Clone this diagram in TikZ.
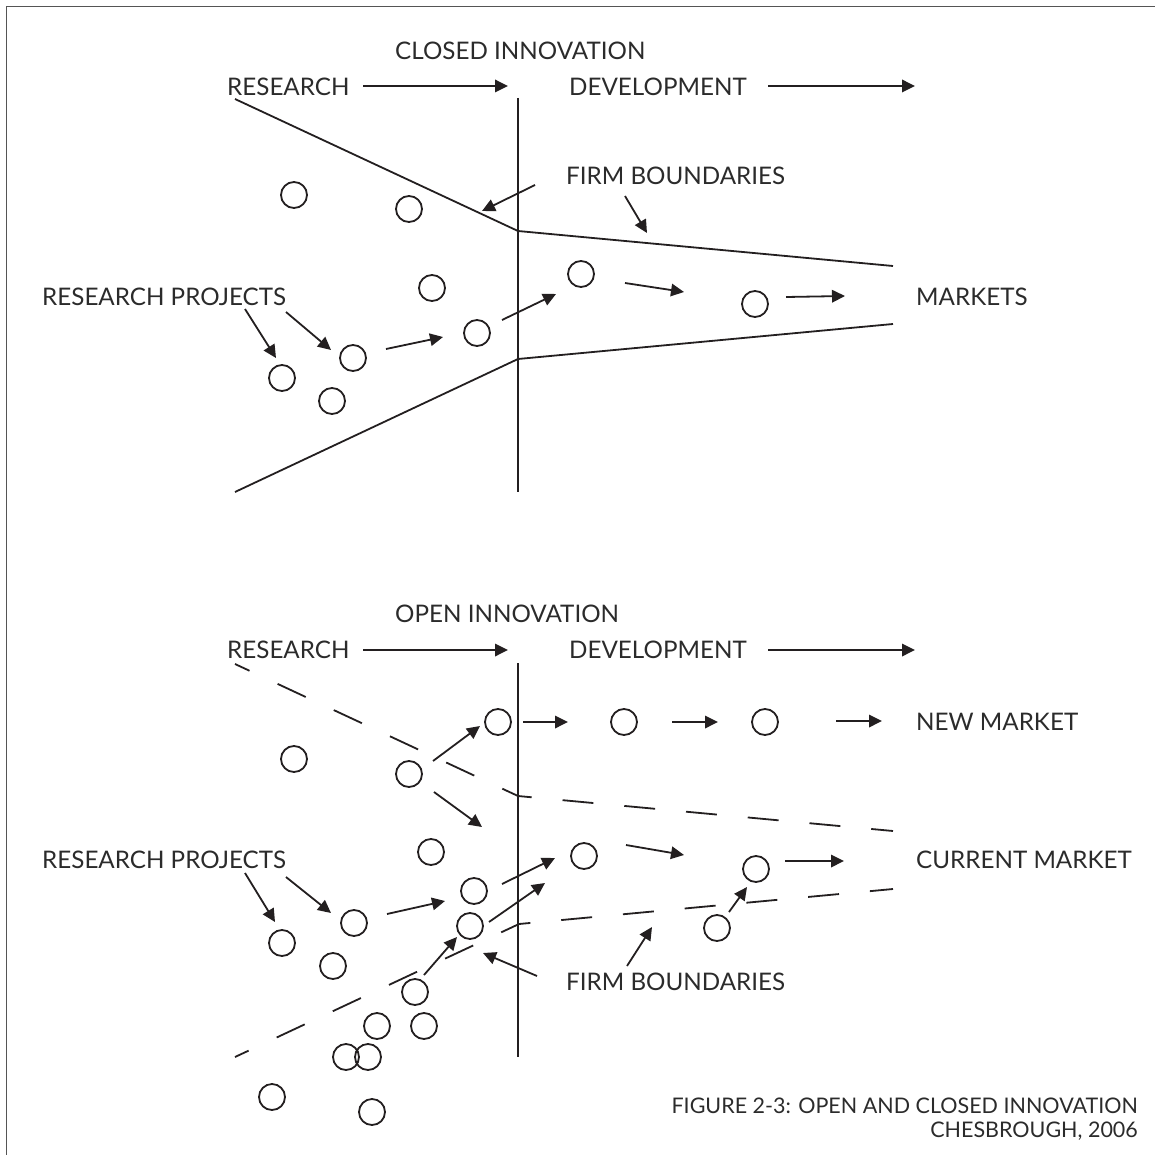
\documentclass[tikz,border=0pt]{standalone}
\usepackage{fontspec}
\setmainfont{Lato}
\usetikzlibrary{arrows.meta}
\definecolor{ink}{HTML}{231F20}
\definecolor{txt}{HTML}{2B2B2B}
\definecolor{frame}{HTML}{555555}
\begin{document}
\begin{tikzpicture}[x=1pt,y=-1pt,
  bub/.style={circle,draw=ink,line width=1.8pt,minimum size=26pt,inner sep=0pt},
  lbl/.style={text=txt,font=\fontsize{24.2}{28}\selectfont,inner sep=0pt,anchor=base west},
  captext/.style={text=txt,font=\fontsize{21.5}{25}\selectfont,inner sep=0pt,anchor=base east},
  arr/.style={draw=ink,line width=1.8pt,-{Triangle[length=13pt,width=12.5pt]}},
  wall/.style={draw=ink,line width=1.8pt},
  dwall/.style={wall,dash pattern=on 31pt off 31pt,dash phase=15pt}]

\useasboundingbox (0,0) rectangle (1155,1155);
% frame
\draw[frame,line width=1.8pt] (6.5,1155) -- (6.5,6.5) -- (1155,6.5);

% ================= closed innovation =================
\node[lbl] (tTitle) at (395,59.5) {CLOSED INNOVATION};
\node[lbl] (tRes) at (227,95.5) {RESEARCH};
\node[lbl] (tDev) at (569,95.5) {DEVELOPMENT};
\node[lbl] (tFirm) at (566,184.5) {FIRM BOUNDARIES};
\node[lbl] (tProj) at (42,305.5) {RESEARCH PROJECTS};
\node[lbl] (tMkt) at (916,305.5) {MARKETS};

% firm walls
\coordinate (tV1) at (518,98);  \coordinate (tV2) at (518,492);
\coordinate (tU0) at (235,99);  \coordinate (tU1) at (518,231); \coordinate (tU2) at (893,266);
\coordinate (tL0) at (235,492); \coordinate (tL1) at (518,359); \coordinate (tL2) at (893,324);
\draw[wall] (tV1) -- (tV2);
\draw[wall] (tU0) -- (tU1) -- (tU2);
\draw[wall] (tL0) -- (tL1) -- (tL2);

% projects
\node[bub] (t1) at (294,195) {};
\node[bub] (t2) at (409,209) {};
\node[bub] (t3) at (432,288) {};
\node[bub] (t4) at (353,358) {};
\node[bub] (t5) at (282,378) {};
\node[bub] (t6) at (332,401) {};
\node[bub] (t7) at (477,333) {};
\node[bub] (t8) at (581,274) {};
\node[bub] (t9) at (755,304) {};

% arrow ends
\coordinate (tA1s) at (363,86);  \coordinate (tA1e) at (508,86);
\coordinate (tA2s) at (768,86);  \coordinate (tA2e) at (915,86);
\coordinate (tF1s) at (535,185); \coordinate (tF1e) at (482,211);
\coordinate (tF2s) at (625,196); \coordinate (tF2e) at (647,233);
\coordinate (tP1s) at (245,309); \coordinate (tP1e) at (276,358);
\coordinate (tP2s) at (286,312); \coordinate (tP2e) at (331,350);
\coordinate (tM1s) at (386,349); \coordinate (tM1e) at (443,337);
\coordinate (tM2s) at (502,320); \coordinate (tM2e) at (556,294);
\coordinate (tM3s) at (625,283); \coordinate (tM3e) at (684,292);
\coordinate (tM4s) at (786,297); \coordinate (tM4e) at (845,296);
\foreach \a in {A1,A2,F1,F2,P1,P2,M1,M2,M3,M4}
  \draw[arr] (t\a s) -- (t\a e);

% ================= open innovation =================
\node[lbl] (bTitle) at (395,622.5) {OPEN INNOVATION};
\node[lbl] (bRes) at (227,658.5) {RESEARCH};
\node[lbl] (bDev) at (569,658.5) {DEVELOPMENT};
\node[lbl] (bNew) at (916,730.5) {NEW MARKET};
\node[lbl] (bProj) at (42,868.5) {RESEARCH PROJECTS};
\node[lbl] (bCur) at (916,868.5) {CURRENT MARKET};
\node[lbl] (bFirm) at (566,990.5) {FIRM BOUNDARIES};

% porous firm walls
\coordinate (bV1) at (518,663);  \coordinate (bV2) at (518,1057);
\coordinate (bU0) at (235,664);  \coordinate (bU1) at (518,796); \coordinate (bU2) at (893,831);
\coordinate (bL0) at (235,1057); \coordinate (bL1) at (519,924); \coordinate (bL2) at (893,889);
\draw[wall] (bV1) -- (bV2);
\draw[dwall] (bU0) -- (bU1) -- (bU2);
\draw[dwall,dash phase=16pt] (bL0) -- (bL1) -- (bL2);

% projects
\node[bub] (b1) at (294,759) {};
\node[bub] (b2) at (409,774) {};
\node[bub] (b3) at (498,722) {};
\node[bub] (b4) at (624,722) {};
\node[bub] (b5) at (765,722) {};
\node[bub] (b6) at (431,852) {};
\node[bub] (b7) at (584,856) {};
\node[bub] (b8) at (756,869) {};
\node[bub] (b9) at (474,891) {};
\node[bub] (b10) at (470,926) {};
\node[bub] (b11) at (354,923) {};
\node[bub] (b12) at (282,943) {};
\node[bub] (b13) at (333,966) {};
\node[bub] (b14) at (415,992) {};
\node[bub] (b15) at (377,1026) {};
\node[bub] (b16) at (424,1026) {};
\node[bub] (b17) at (346,1057) {};
\node[bub] (b18) at (368,1057) {};
\node[bub] (b19) at (272,1097) {};
\node[bub] (b20) at (372,1112) {};
\node[bub] (b21) at (717,928) {};

% arrow ends
\coordinate (bA1s) at (363,650);  \coordinate (bA1e) at (508,650);
\coordinate (bA2s) at (768,650);  \coordinate (bA2e) at (915,650);
\coordinate (bN1s) at (523,722);  \coordinate (bN1e) at (568,722);
\coordinate (bN2s) at (672,722);  \coordinate (bN2e) at (718,722);
\coordinate (bN3s) at (836,721);  \coordinate (bN3e) at (882,721);
\coordinate (bS1s) at (433,761);  \coordinate (bS1e) at (480,726);
\coordinate (bS2s) at (434,792);  \coordinate (bS2e) at (482,827);
\coordinate (bP1s) at (245,873);  \coordinate (bP1e) at (275,922);
\coordinate (bP2s) at (286,877);  \coordinate (bP2e) at (331,913);
\coordinate (bM1s) at (387,914);  \coordinate (bM1e) at (445,901);
\coordinate (bM2s) at (502,884);  \coordinate (bM2e) at (555,858);
\coordinate (bM3s) at (489,922);  \coordinate (bM3e) at (545,883);
\coordinate (bM4s) at (424,975);  \coordinate (bM4e) at (457,937);
\coordinate (bM5s) at (626,845);  \coordinate (bM5e) at (684,855);
\coordinate (bM6s) at (785,861);  \coordinate (bM6e) at (844,861);
\coordinate (bM7s) at (729,912);  \coordinate (bM7e) at (747,887);
\coordinate (bF1s) at (537,976);  \coordinate (bF1e) at (483,953);
\coordinate (bF2s) at (627,966);  \coordinate (bF2e) at (652,927);
\foreach \a in {A1,A2,N1,N2,N3,S1,S2,P1,P2,M1,M2,M3,M4,M5,M6,M7,F1,F2}
  \draw[arr] (b\a s) -- (b\a e);

% caption
\node[captext] (cap1) at (1138,1113) {FIGURE 2-3: OPEN AND CLOSED INNOVATION};
\node[captext] (cap2) at (1138,1137) {CHESBROUGH, 2006};
\end{tikzpicture}
\end{document}
